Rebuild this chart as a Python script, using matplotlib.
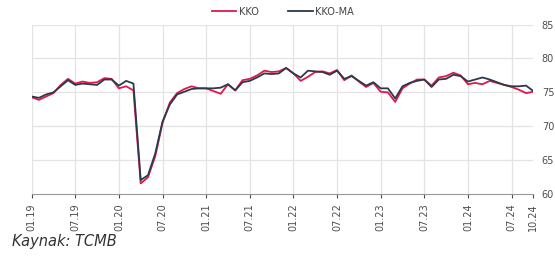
import matplotlib
matplotlib.use('Agg')
import matplotlib.pyplot as plt

# aylik veri 01.19 - 10.24
kko = [74.3, 73.9, 74.4, 74.9, 76.1, 77.0, 76.3, 76.6, 76.4, 76.5, 77.1, 77.0,
       75.6, 75.9, 75.3, 61.6, 62.5, 65.6, 70.5, 73.5, 74.9, 75.5, 75.9, 75.6,
       75.6, 75.2, 74.8, 76.2, 75.3, 76.8, 77.0, 77.5, 78.2, 78.0, 78.1, 78.6,
       77.8, 76.7, 77.3, 78.0, 78.1, 77.8, 78.3, 76.8, 77.5, 76.6, 75.8, 76.4,
       75.1, 75.0, 73.6, 75.6, 76.3, 76.9, 76.9, 76.0, 77.2, 77.4, 77.9, 77.5,
       76.2, 76.4, 76.2, 76.7, 76.4, 76.1, 75.8, 75.4, 74.9, 75.1]
kko_ma = [74.4, 74.2, 74.7, 75.0, 75.9, 76.8, 76.1, 76.3, 76.2, 76.1, 76.9, 76.9,
          76.0, 76.7, 76.3, 62.1, 62.8, 66.0, 70.7, 73.2, 74.7, 75.1, 75.5, 75.6,
          75.6, 75.6, 75.7, 76.2, 75.3, 76.5, 76.7, 77.2, 77.8, 77.7, 77.8, 78.6,
          77.8, 77.2, 78.2, 78.1, 78.0, 77.6, 78.2, 77.0, 77.4, 76.7, 76.0, 76.5,
          75.6, 75.6, 74.1, 75.9, 76.4, 76.7, 76.9, 75.8, 76.9, 77.0, 77.6, 77.4,
          76.6, 76.9, 77.2, 76.9, 76.5, 76.1, 75.9, 75.9, 76.0, 75.2]
tick_pos = [0, 6, 12, 18, 24, 30, 36, 42, 48, 54, 60, 66, 69]
tick_labels = ['01.19', '07.19', '01.20', '07.20', '01.21', '07.21', '01.22',
               '07.22', '01.23', '07.23', '01.24', '07.24', '10.24']
y_ticks = [60, 65, 70, 75, 80, 85]

fig = plt.figure(figsize=(5.55, 2.58), dpi=100)
ax = fig.add_axes([0.057, 0.247, 0.904, 0.658])

x = list(range(len(kko)))
ax.plot(x, kko, color='#e3174b', lw=1.3, label='KKO', zorder=3)
ax.plot(x, kko_ma, color='#2b3a4a', lw=1.3, label='KKO-MA', zorder=3)

ax.set_xlim(0, 69)
ax.set_ylim(60, 85)
ax.set_yticks(y_ticks)
ax.yaxis.tick_right()
ax.tick_params(axis='y', length=0, labelsize=7, colors='#4d4d4d', pad=6)
ax.set_xticks(tick_pos)
ax.set_xticklabels(tick_labels, rotation=90)
ax.tick_params(axis='x', length=3, labelsize=7, colors='#4d4d4d', width=0.8)

for yv in y_ticks[1:]:
    ax.axhline(yv, color='#e3e3e3', lw=0.9, zorder=1)
for xv in tick_pos[:-1]:
    ax.axvline(xv, color='#e3e3e3', lw=0.9, zorder=1)

for s in ['top', 'left', 'right']:
    ax.spines[s].set_visible(False)
ax.spines['bottom'].set_color('#999999')
ax.spines['bottom'].set_linewidth(0.8)

fig.legend(loc='center', bbox_to_anchor=(0.51, 0.955), ncol=2, frameon=False,
           fontsize=7, handlelength=2.5, columnspacing=3, handletextpad=0.3,
           labelcolor='#444444')

fig.text(0.021, 0.045, 'Kaynak: TCMB', fontsize=10.5, style='italic', color='#333333')

plt.savefig('out.png', dpi=100)
